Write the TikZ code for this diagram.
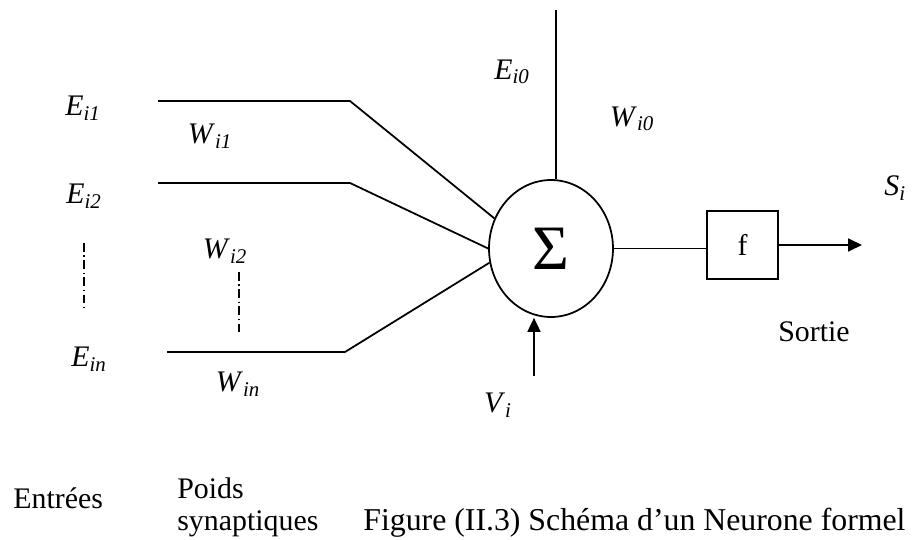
\documentclass[tikz,border=0pt]{standalone}
\usepackage[no-math]{fontspec}
\setmainfont{Liberation Serif}
\usetikzlibrary{arrows.meta,shapes.geometric}
\newcommand{\sublab}[2]{\textit{#1}\textsubscript{\textit{#2}}}
\tikzset{
  wire/.style={line width=1pt,draw=black},
  arr/.style={wire,-{Triangle[length=2.8mm,width=2.6mm]}},
  sumnode/.style={ellipse,draw,line width=1pt,minimum width=2.48cm,minimum height=2.74cm,inner sep=0pt,font=\fontsize{36}{40}\selectfont},
  actbox/.style={draw,line width=1pt,minimum width=1.42cm,minimum height=1.36cm,inner sep=0pt,font=\fontsize{17}{20}\selectfont},
  lab/.style={inner sep=0pt,font=\fontsize{17}{20}\selectfont},
  txt/.style={inner sep=0pt,font=\fontsize{17}{20}\selectfont},
  vdots/.style={line width=0.8pt,dash pattern=on 5pt off 2pt on 0.8pt off 2pt}
}
\begin{document}
\begin{tikzpicture}[x=0.02cm,y=-0.02cm]
  \useasboundingbox (0,0) rectangle (913,540);
  \node[sumnode] (sum) at (551,248.5) {Σ};
  \node[actbox] (act) at (742.5,245) {f};
  % entrees et poids
  \coordinate (in1) at (158,101); \coordinate (k1) at (350,101);
  \coordinate (in2) at (158,183); \coordinate (k2) at (350,183);
  \coordinate (in3) at (167,352); \coordinate (k3) at (345,352);
  \draw[wire] (in1)--(k1)--(sum.152);
  \draw[wire] (in2)--(k2)--(sum.west);
  \draw[wire] (in3)--(k3)--(sum.193);
  \coordinate (bias) at (556,10);
  \draw[wire] (bias)--(bias |- sum.north);
  \draw[wire] (sum.east)--(sum.east -| act.west);
  \coordinate (out) at (862,245);
  \draw[arr] (act.east)--(out);
  \coordinate (vin) at (534,376);
  \draw[arr] (vin)--(vin |- sum.south);
  \draw[vdots] (84,243)--(84,308);
  \draw[vdots] (239,272)--(239,335);
  % labels
  \node[lab] (e1) at (83,108) {\sublab{E}{i1}};
  \node[lab] (e2) at (84,196) {\sublab{E}{i2}};
  \node[lab] (en) at (89,359) {\sublab{E}{in}};
  \node[lab] (w1) at (210,136) {\sublab{W}{i1}};
  \node[lab] (w2) at (225,251) {\sublab{W}{i2}};
  \node[lab] (wn) at (238,384) {\sublab{W}{in}};
  \node[lab] (e0) at (512,72) {\sublab{E}{i0}};
  \node[lab] (w0) at (632,119) {\sublab{W}{i0}};
  \node[lab] (vi) at (498,405) {\sublab{V}{i}};
  \node[lab,anchor=west] (si) at (884,188) {\sublab{S}{i}};
  \node[txt,anchor=base west] (sortie) at (778,342) {Sortie};
  \node[txt,anchor=base west] (entrees) at (13,508) {Entrées};
  \node[txt,anchor=base west] (poids) at (177,499) {Poids};
  \node[txt,anchor=base west] (syn) at (177,530) {synaptiques};
  \node[inner sep=0pt,font=\fontsize{18.1}{22}\selectfont,anchor=base west] (cap) at (363,530) {Figure (II.3) Schéma d’un Neurone formel};
\end{tikzpicture}
\end{document}
